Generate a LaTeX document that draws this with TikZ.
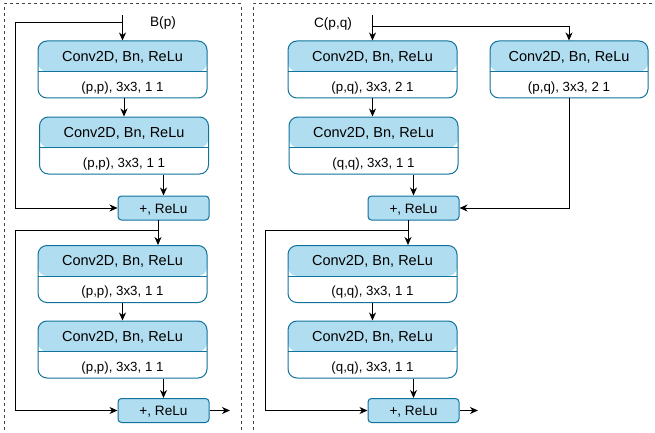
\documentclass[tikz,border=0pt]{standalone}
\usepackage{fontspec}
\setmainfont{Liberation Sans}
\usetikzlibrary{arrows.meta,calc}
\definecolor{hdr}{HTML}{B1DDF0}
\definecolor{edgeblue}{HTML}{10739E}
\definecolor{framegray}{HTML}{444444}
\tikzset{
  conv/.style={draw=edgeblue, line width=1pt, fill=white, rounded corners=9pt,
    minimum width=169pt, minimum height=57pt, inner sep=0pt,
    path picture={
      \fill[hdr] ([yshift=2pt]path picture bounding box.north west) rectangle ([yshift=-30.5pt]path picture bounding box.north east);
      \draw[edgeblue, line width=1pt] ([yshift=-30.5pt]path picture bounding box.north west) -- ([yshift=-30.5pt]path picture bounding box.north east);
    }},
  narrowconv/.style={conv, minimum width=158pt},
  plusbox/.style={draw=edgeblue, line width=1pt, fill=hdr, rounded corners=3.5pt,
    minimum width=91pt, minimum height=24pt, inner sep=0pt},
  htext/.style={anchor=base, inner sep=0pt, font=\fontsize{14.5}{16}\selectfont},
  btext/.style={anchor=base, inner sep=0pt, font=\fontsize{13.3}{15}\selectfont},
  ptext/.style={anchor=base, inner sep=0pt, font=\fontsize{13.6}{15}\selectfont},
  lbl/.style={anchor=base, inner sep=0pt, font=\fontsize{13.6}{15}\selectfont},
  arr/.style={-{Stealth[length=8pt,width=7pt,inset=2.5pt]}, line width=1pt, black},
  ln/.style={line width=1pt, black},
  frame/.style={draw=framegray, line width=1pt, dash pattern=on 3pt off 3pt},
}
\begin{document}
\begin{tikzpicture}[x=1pt, y=-1pt]
\useasboundingbox (0,0) rectangle (655,433);
% frames
\draw[frame] (4,436) -- (4,4) -- (241,4) -- (241,436);
\draw[frame] (253,436) -- (253,4) -- (660,4);

% ---------- left column ----------
\node[conv] (L1) at (122.5,69.5) {};
\node[conv] (L2) at (124,145.5) {};
\node[plusbox] (P1) at (163.5,208) {};
\node[conv] (L3) at (122.5,274) {};
\node[conv] (L4) at (122.5,349.5) {};
\node[plusbox] (P2) at (163.5,410.5) {};

\foreach \b in {L1,L2,L3,L4}{
  \node[htext] (\b h) at ([yshift=-20.7pt]\b.north) {Conv2D, Bn, ReLu};
  \node[btext] (\b b) at ([yshift=7.3pt]\b.south) {(p,p), 3x3, 1 1};
}
\node[ptext] (P1t) at ([yshift=-5.3pt]P1.center) {+, ReLu};
\node[ptext] (P2t) at ([yshift=-5.3pt]P2.center) {+, ReLu};
\node[lbl] (Blbl) at (163,27) {B(p)};

\coordinate (Lin) at (122.5,15);
\coordinate (Lsplit) at (122.5,22.7);
\coordinate (Lx) at (15,0);
\coordinate (P1o) at (158,220);
\coordinate (Lsplit2) at (158,230);
\coordinate (Lout) at (230,410.5);

\draw[arr] (Lin) -- (L1.north);
\draw[arr] (Lsplit) -- (Lsplit -| Lx) -- (Lx |- P1.west) -- (P1.west);
\draw[arr] (L1.south -| L2) -- (L2.north);
\draw[arr] (L2.south -| P1) -- (P1.north);
\draw[arr] (P1o) -- (P1o |- L3.north);
\draw[arr] (Lsplit2) -- (Lsplit2 -| Lx) -- (Lx |- P2.west) -- (P2.west);
\draw[arr] (L3.south) -- (L4.north);
\draw[arr] (L4.south -| P2) -- (P2.north);
\draw[arr] (P2.east) -- (Lout);

% ---------- right column ----------
\node[conv] (R1) at (372.5,69.5) {};
\node[narrowconv] (R2) at (569,69.5) {};
\node[conv] (R3) at (373.5,145.5) {};
\node[plusbox] (Q1) at (413.5,208) {};
\node[conv] (R4) at (372.5,274) {};
\node[conv] (R5) at (372.5,349.5) {};
\node[plusbox] (Q2) at (413.5,410.5) {};

\foreach \b/\t in {R1/{(p,q), 3x3, 2 1},R2/{(p,q), 3x3, 2 1},R3/{(q,q), 3x3, 1 1},R4/{(q,q), 3x3, 1 1},R5/{(q,q), 3x3, 1 1}}{
  \node[htext] (\b h) at ([yshift=-20.7pt]\b.north) {Conv2D, Bn, ReLu};
  \node[btext] (\b b) at ([yshift=7.3pt]\b.south) {\t};
}
\node[ptext] (Q1t) at ([yshift=-5.3pt]Q1.center) {+, ReLu};
\node[ptext] (Q2t) at ([yshift=-5.3pt]Q2.center) {+, ReLu};
\node[lbl] (Clbl) at (333,28) {C(p,q)};

\coordinate (Rin) at (372.5,15);
\coordinate (Rsplit) at (372.5,26.7);
\coordinate (Rx) at (265,0);
\coordinate (Q1o) at (408,220);
\coordinate (Rsplit2) at (408,230);
\coordinate (Rout) at (478,410.5);

\draw[arr] (Rin) -- (R1.north);
\draw[arr] (Rsplit) -| (R2.north);
\draw[arr] (R1.south) -- (R1.south |- R3.north);
\draw[arr] (R3.south -| Q1) -- (Q1.north);
\draw[arr] (R2.south) |- (Q1.east);
\draw[arr] (Q1o) -- (Q1o |- R4.north);
\draw[arr] (Rsplit2) -- (Rsplit2 -| Rx) -- (Rx |- Q2.west) -- (Q2.west);
\draw[arr] (R4.south) -- (R5.north);
\draw[arr] (R5.south -| Q2) -- (Q2.north);
\draw[arr] (Q2.east) -- (Rout);
\end{tikzpicture}
\end{document}
